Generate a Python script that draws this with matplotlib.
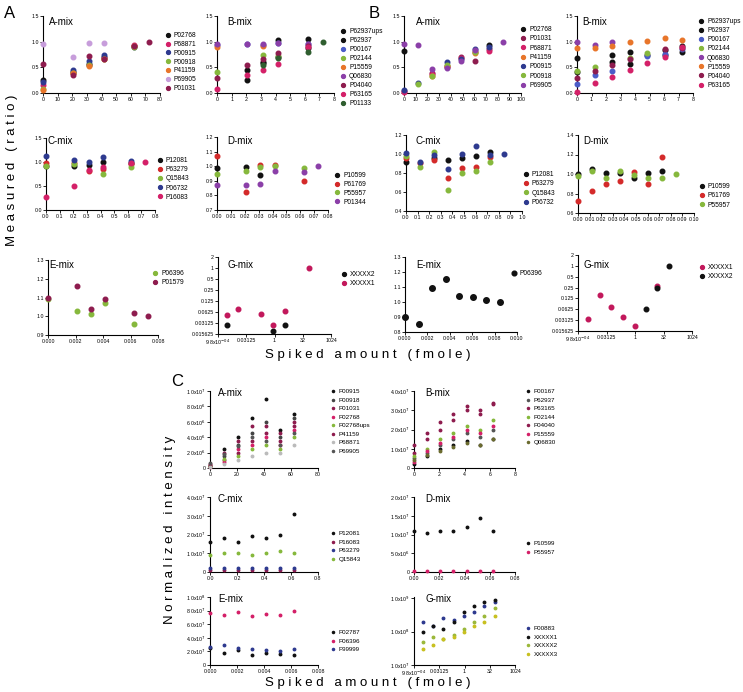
import numpy as np
import matplotlib.pyplot as plt

plt.rcParams["font.family"] = ["Liberation Sans", "DejaVu Sans"]
plt.rcParams["font.size"] = 5

W, H = 743, 692
nan = np.nan

# colours
BLACK = "#111111"
RED = "#d42a2a"
PINK = "#d42068"
MAROON = "#8e1c4e"
NAVY = "#2e3a8f"
BLUE = "#4b5cc8"
GREEN = "#86b83c"
ORANGE = "#e8752a"
LAVENDER = "#c79ddb"
PURPLE = "#8b3fa8"
DKGREEN = "#2f5e2f"
MAGENTA = "#c2185b"
GREY = "#bbbbbb"

# ---------------- panel A ----------------
a_amix_x = [0, 20.8, 31.2, 41.6, 62.4, 72.8]
a_amix_names = ["P02768", "P68871", "P00915", "P00918", "P41159", "P69905", "P01031"]
a_amix_cols = [BLACK, PINK, NAVY, GREEN, ORANGE, LAVENDER, MAROON]
a_amix_vals = [
    [0.25, 0.40, 0.57, 0.70, 0.91, nan],
    [0.15, 0.38, 0.55, 0.68, 0.93, nan],
    [0.21, 0.45, 0.62, 0.74, 0.89, nan],
    [0.08, 0.38, 0.54, 0.67, 0.90, nan],
    [0.06, 0.39, 0.53, 0.66, 0.92, nan],
    [0.95, 0.70, 0.97, 0.97, nan, nan],
    [0.57, 0.36, 0.73, 0.67, 0.92, 1.00],
]

a_bmix_x = [0, 2.08, 3.12, 4.16, 6.24, 7.28]
a_bmix_names = ["P62937ups", "P62937", "P00167", "P02144", "P15559", "Q06830",
                "P04040", "P63165", "P01133"]
a_bmix_cols = [BLACK, BLACK, BLUE, GREEN, ORANGE, PURPLE, MAROON, PINK, DKGREEN]
a_bmix_vals = [
    [nan, 0.44, 0.59, 1.03, 1.06, nan],
    [nan, 0.26, 0.60, 0.70, 0.88, nan],
    [0.93, 0.95, 0.93, 0.98, 0.95, nan],
    [0.40, nan, 0.74, 0.72, nan, nan],
    [0.90, nan, 0.92, nan, nan, nan],
    [0.95, 0.95, 0.95, 0.98, 0.96, nan],
    [0.30, 0.54, 0.67, 0.77, 0.92, nan],
    [0.08, 0.36, 0.44, 0.56, 0.89, nan],
    [nan, nan, 0.54, 0.68, 0.80, 1.00],
]

a_cmix_x = [0, 0.208, 0.312, 0.416, 0.624, 0.728]
a_cmix_names = ["P12081", "P63279", "Q15843", "P06732", "P16083"]
a_cmix_cols = [BLACK, RED, GREEN, NAVY, PINK]
a_cmix_vals = [
    [0.92, 0.91, 0.93, 0.99, 0.97, nan],
    [0.98, 0.98, 0.82, 0.86, 0.95, nan],
    [0.91, 0.95, nan, 0.74, 0.89, nan],
    [1.12, 1.05, 1.00, 1.10, 1.03, nan],
    [0.27, 0.50, 0.83, 0.89, 0.97, 1.00],
]

a_dmix_x = [0, 0.0208, 0.0312, 0.0416, 0.0624, 0.0728]
a_dmix_names = ["P10599", "P61769", "P55957", "P01344"]
a_dmix_cols = [BLACK, RED, GREEN, PURPLE]
a_dmix_vals = [
    [0.99, 0.995, 0.94, nan, nan, nan],
    [1.07, 0.82, 1.005, 1.005, 0.90, nan],
    [0.95, 0.97, 0.995, 1.00, 0.99, nan],
    [0.87, 0.87, 0.88, 0.97, 0.96, 1.00],
]

a_emix_x = [0, 0.00208, 0.00312, 0.00416, 0.00624, 0.00728]
a_emix_names = ["P06396", "P01579"]
a_emix_cols = [GREEN, MAROON]
a_emix_vals = [
    [1.09, 1.03, 1.01, 1.07, 0.96, nan],
    [1.10, 1.16, 1.04, 1.09, 1.02, 1.00],
]

a_gmix_x = [0.003, 0.0115, 0.2, 0.87, 3.65, 65]
a_gmix_names = ["XXXXX2", "XXXXX1"]
a_gmix_cols = [BLACK, MAGENTA]
a_gmix_vals = [
    [0.0276, nan, nan, 0.0192, 0.0276, nan],
    [0.053, 0.074, 0.055, 0.0276, 0.065, 1.0],
]

# ---------------- panel B ----------------
grid8 = [0, 0.121, 0.242, 0.364, 0.485, 0.606, 0.727, 0.848]

b_amix_x = [0, 12.1, 24.3, 36.4, 48.6, 60.7, 72.8, 84.9]
b_amix_names = ["P02768", "P01031", "P68871", "P41159", "P00915", "P00918", "P69905"]
b_amix_cols = [BLACK, MAROON, PINK, ORANGE, NAVY, GREEN, PURPLE]
b_amix_vals = [
    [0.82, nan, nan, nan, nan, nan, 0.94, nan],
    [0.03, nan, 0.38, 0.50, 0.70, 0.62, 0.85, nan],
    [0.02, nan, 0.37, 0.52, 0.68, 0.80, 0.82, nan],
    [nan, nan, 0.34, 0.53, nan, 0.77, nan, nan],
    [0.06, 0.19, nan, 0.60, 0.66, 0.86, 0.90, nan],
    [nan, 0.17, 0.34, 0.55, nan, 0.80, nan, nan],
    [0.96, 0.93, 0.46, 0.49, 0.63, 0.83, nan, 1.00],
]

b_bmix_x = [0, 1.21, 2.42, 3.64, 4.85, 6.06, 7.27]
b_bmix_names = ["P62937ups", "P62937", "P00167", "P02144", "Q06830", "P15559",
                "P04040", "P63165"]
b_bmix_cols = [BLACK, BLACK, BLUE, GREEN, PURPLE, ORANGE, MAROON, PINK]
b_bmix_vals = [
    [0.69, nan, 0.75, 0.80, 0.74, 0.83, 0.92],
    [0.40, nan, 0.61, 0.56, nan, 0.75, 0.80],
    [0.18, 0.35, 0.43, nan, 0.73, 0.76, 0.86],
    [0.42, 0.50, nan, 0.68, 0.78, nan, nan],
    [0.99, 0.94, 1.00, nan, nan, nan, nan],
    [0.88, 0.87, 0.91, 1.00, 1.02, 1.07, 1.04],
    [0.29, 0.42, 0.55, 0.67, nan, 0.86, 0.88],
    [0.02, 0.19, 0.32, 0.45, 0.59, 0.70, 0.90],
]

b_cmix_x = grid8
b_cmix_names = ["P12081", "P63279", "Q15843", "P06732"]
b_cmix_cols = [BLACK, RED, GREEN, NAVY]
b_cmix_vals = [
    [0.92, nan, 0.96, 0.94, 0.96, 0.98, 1.02, nan],
    [0.96, 0.90, 0.94, 0.75, 0.85, 0.86, 0.97, nan],
    [0.98, 0.86, 1.02, 0.62, 0.80, 0.82, 0.92, nan],
    [1.01, 0.92, 0.99, 0.84, 1.00, 1.08, 0.99, 1.00],
]

b_dmix_x = [v / 10 for v in grid8]
b_dmix_names = ["P10599", "P61769", "P55957"]
b_dmix_cols = [BLACK, RED, GREEN]
b_dmix_vals = [
    [1.00, 1.05, 1.01, 1.01, 0.96, 1.01, 1.03, nan],
    [0.72, 0.83, 0.90, 0.93, 1.02, 0.90, 1.17, nan],
    [0.98, 1.03, 0.96, 1.03, 0.99, 0.96, 0.96, 1.00],
]

b_emix_x = [v / 100 for v in grid8]
b_emix_names = ["P06396"]
b_emix_cols = [BLACK]
b_emix_vals = [[0.90, 0.85, 1.09, 1.15, 1.04, 1.035, 1.015, 1.00]]

b_gmix_x = [0.0033, 0.0136, 0.056, 0.233, 0.96, 3.66, 14.5, 62]
b_gmix_names = ["XXXXX1", "XXXXX2"]
b_gmix_cols = [MAGENTA, BLACK]
b_gmix_vals = [
    [0.034, 0.154, 0.072, 0.037, 0.0213, nan, 0.283, nan],
    [nan, nan, nan, nan, nan, 0.064, 0.24, 1.0],
]

# ---------------- panel C (normalized intensity) ----------------
c_amix_x = [0, 10.4, 20.8, 31.2, 41.6, 52, 62.4]
c_amix_names = ["P00915", "P00918", "P01031", "P02768", "P02768ups", "P41159",
                "P68871", "P69905"]
c_amix_cols = [BLACK, "#444444", MAROON, PINK, GREEN, MAROON, GREY, "#555555"]
c_amix_vals = [
    [0.3e6, 2.5e6, 4.0e6, 6.5e6, 9.0e6, 5.0e6, 7.0e6],
    [0.2e6, 1.5e6, 3.0e6, 4.5e6, 6.0e6, 4.0e6, 6.5e6],
    [0.5e6, 1.0e6, 2.0e6, 3.5e6, 4.5e6, 3.5e6, 5.5e6],
    [0.1e6, 0.8e6, 2.5e6, 3.0e6, 4.0e6, 3.0e6, 5.0e6],
    [0.2e6, 1.2e6, 1.5e6, 2.5e6, 3.0e6, 2.5e6, 4.0e6],
    [0.4e6, 2.0e6, 3.5e6, 5.5e6, 5.5e6, 4.5e6, 6.0e6],
    [0.1e6, 0.5e6, 1.0e6, 1.5e6, 2.0e6, 2.0e6, 3.0e6],
    [0.6e6, 1.8e6, 2.8e6, 4.0e6, 3.5e6, 3.0e6, 4.5e6],
]

c_bmix_x = [0, 1.04, 2.08, 3.12, 4.16, 5.2, 6.24]
c_bmix_names = ["P00167", "P62937", "P63165", "P02144", "P04040", "P15559", "Q06830"]
c_bmix_cols = [BLACK, "#555555", MAROON, GREEN, MAROON, PINK, "#6b6b2f"]
c_bmix_vals = [
    [0.2e7, 0.6e7, 1.0e7, 1.2e7, 1.4e7, 1.2e7, 1.5e7],
    [0.5e7, 0.8e7, 1.2e7, 1.5e7, 1.8e7, 1.6e7, 2.0e7],
    [0.8e7, 1.5e7, 2.0e7, 2.5e7, 3.0e7, 2.8e7, 3.3e7],
    [0.6e7, 1.0e7, 1.5e7, 1.8e7, 2.2e7, 2.0e7, 2.5e7],
    [1.2e7, 1.8e7, 2.4e7, 2.8e7, 3.2e7, 3.0e7, 3.4e7],
    [0.3e7, 0.9e7, 1.3e7, 1.6e7, 2.0e7, 1.8e7, 2.2e7],
    [0.4e7, 0.7e7, 0.9e7, 1.1e7, 1.3e7, 1.2e7, 1.5e7],
]

c_cmix_x = [0, 0.104, 0.208, 0.312, 0.416, 0.52, 0.624]
c_cmix_names = ["P12081", "P16083", "P63279", "Q15843"]
c_cmix_cols = [BLACK, MAROON, NAVY, GREEN]
c_cmix_vals = [
    [1.6e7, 1.8e7, 1.6e7, 1.9e7, 1.8e7, 2.0e7, 3.1e7],
    [0.1e7, 0.1e7, 0.1e7, 0.1e7, 0.1e7, 0.1e7, 0.1e7],
    [0.2e7, 0.2e7, 0.2e7, 0.2e7, 0.2e7, 0.2e7, 0.2e7],
    [0.9e7, 1.0e7, 1.0e7, 0.9e7, 1.0e7, 1.1e7, 1.0e7],
]

c_dmix_x = [0, 0.0104, 0.0208, 0.0312, 0.0416, 0.052, 0.0624]
c_dmix_names = ["P10599", "P55957"]
c_dmix_cols = [BLACK, PINK]
c_dmix_vals = [
    [1.1e7, 1.05e7, 1.1e7, 1.1e7, 1.2e7, 1.45e7, 1.1e7],
    [0.03e7, 0.03e7, 0.03e7, 0.03e7, 0.03e7, 0.03e7, 0.03e7],
]

c_emix_x = [0, 0.00104, 0.00208, 0.00312, 0.00416, 0.0052, 0.00624]
c_emix_names = ["P02787", "P06396", "P99999"]
c_emix_cols = [BLACK, PINK, NAVY]
c_emix_vals = [
    [2.5e7, 1.8e7, 2.2e7, 1.5e7, 1.8e7, 1.6e7, 1.5e7],
    [7.6e7, 7.4e7, 7.8e7, 7.2e7, 7.5e7, 7.3e7, 8.0e7],
    [2.6e7, 3.0e7, 2.5e7, 2.4e7, 2.2e7, 2.0e7, 2.4e7],
]

c_gmix_x = [0.0033, 0.0136, 0.056, 0.233, 0.96, 3.66, 14.5, 62]
c_gmix_names = ["P00883", "XXXXX1", "XXXXX2", "XXXXX3"]
c_gmix_cols = [NAVY, BLACK, "#9bb83a", "#c8c020"]
c_gmix_vals = [
    [2e8, 1.5e8, 2.5e8, 2.2e8, 3e8, 4e8, 6e8, 8e8],
    [1e8, 1.5e8, 1.2e8, 2e8, 4e8, 6e8, 8e8, 9e8],
    [5e7, 7e7, 6e7, 8e7, 1.2e8, 2e8, 3e8, 5e8],
    [3e7, 4e7, 6e7, 7e7, 1e8, 1.5e8, 2e8, 3e8],
]

fig = plt.figure(figsize=(W / 100, H / 100), dpi=100)


def px_axes(l, t, r, b):
    return fig.add_axes([l / W, 1 - b / H, (r - l) / W, (b - t) / H])


def panel(rect, title, tpos, x, vals, names, cols, leg, xlim, xticks, xlabels,
          ylim, yticks, ylabels, log=False, ms=3.3, fs=4.8, lsp=0.28):
    ax = px_axes(*rect)
    handles = []
    for v, c in zip(vals, cols):
        (h,) = ax.plot(x, v, "o", color=c, ms=ms, mec=c, clip_on=False, zorder=3)
        handles.append(h)
    if log:
        ax.set_xscale("log", base=2)
        ax.set_yscale("log", base=2)
    ax.set_xlim(*xlim)
    ax.set_ylim(*ylim)
    ax.set_xticks(xticks)
    ax.set_xticklabels(xlabels)
    ax.set_yticks(yticks)
    ax.set_yticklabels(ylabels)
    ax.minorticks_off()
    for s in ["top", "right"]:
        ax.spines[s].set_visible(False)
    for s in ["left", "bottom"]:
        ax.spines[s].set_linewidth(0.8)
    ax.tick_params(length=2, width=0.6, labelsize=3.8, pad=1)
    ax.patch.set_alpha(0)
    fig.text(tpos[0] / W, 1 - tpos[1] / H, title, fontsize=7, va="center", ha="left")
    ax.legend(handles, names, loc="upper left",
              bbox_to_anchor=((leg[0] - 2) / W, 1 - (leg[1] - 4) / H),
              bbox_transform=fig.transFigure, frameon=False, fontsize=fs,
              borderpad=0, borderaxespad=0, handlelength=0.6, handletextpad=0.6,
              labelspacing=lsp, markerscale=0.85)
    return ax


def labs(vals, fmt):
    return [fmt.format(v) for v in vals]


def sci(v):
    if v == 0:
        return "0"
    e = int(np.floor(np.log10(v)))
    return r"%.1fx10$^{%d}$" % (v / 10 ** e, e)


r01 = [0, 0.5, 1.0, 1.5]
log_x = [2.0 ** -10, 2.0 ** -5, 1, 32, 1024]
log_xl = [r"9.8x10$^{-04}$", "0.03125", "1", "32", "1024"]
log_y = [2.0 ** k for k in range(-6, 2)]
log_yl = ["0.015625", "0.03125", "0.0625", "0.125", "0.25", "0.5", "1", "2"]

# ---- panel A
panel((43, 16, 160, 93), "A-mix", (49, 22), a_amix_x, a_amix_vals, a_amix_names,
      a_amix_cols, (168, 36), (0, 80), range(0, 81, 10), labs(range(0, 81, 10), "{}"),
      (0, 1.5), r01, labs(r01, "{:.1f}"))
panel((217, 16, 334, 93), "B-mix", (227, 22), a_bmix_x, a_bmix_vals, a_bmix_names,
      a_bmix_cols, (343, 32), (0, 8), range(9), labs(range(9), "{}"),
      (0, 1.5), r01, labs(r01, "{:.1f}"), lsp=0.3)
cx = np.arange(0, 0.81, 0.1)
panel((46, 138, 155, 210), "C-mix", (48, 141), a_cmix_x, a_cmix_vals, a_cmix_names,
      a_cmix_cols, (160, 161), (0, 0.8), cx, labs(cx, "{:.1f}"),
      (0, 1.5), r01, labs(r01, "{:.1f}"), lsp=0.33)
dx = np.arange(0, 0.081, 0.01)
dy = np.arange(0.7, 1.21, 0.1)
panel((217, 137, 328, 210), "D-mix", (227, 141), a_dmix_x, a_dmix_vals, a_dmix_names,
      a_dmix_cols, (337, 176), (0, 0.08), dx, labs(dx, "{:.2f}"),
      (0.7, 1.2), dy, labs(dy, "{:.1f}"))
ex = np.arange(0, 0.0081, 0.002)
ey = np.arange(0.9, 1.31, 0.1)
panel((48, 260, 158, 335), "E-mix", (49, 265), a_emix_x, a_emix_vals, a_emix_names,
      a_emix_cols, (155, 274), (0, 0.008), ex, labs(ex, "{:.3f}"),
      (0.9, 1.3), ey, labs(ey, "{:.1f}"))
panel((218, 257, 331, 334), "G-mix", (227, 265), a_gmix_x, a_gmix_vals, a_gmix_names,
      a_gmix_cols, (344, 275), (2.0 ** -10, 1024), log_x, log_xl,
      (2.0 ** -6, 2), log_y, log_yl, log=True)

# ---- panel B
panel((404, 16, 521, 93), "A-mix", (416, 22), b_amix_x, b_amix_vals, b_amix_names,
      b_amix_cols, (523, 30), (0, 100), range(0, 101, 10), labs(range(0, 101, 10), "{}"),
      (0, 1.5), r01, labs(r01, "{:.1f}"), lsp=0.35)
panel((577, 16, 693, 93), "B-mix", (582, 22), b_bmix_x, b_bmix_vals, b_bmix_names,
      b_bmix_cols, (701, 22), (0, 8), range(9), labs(range(9), "{}"),
      (0, 1.5), r01, labs(r01, "{:.1f}"), lsp=0.32)
bcx = np.arange(0, 1.01, 0.1)
bcy = np.arange(0.4, 1.21, 0.2)
panel((406, 135, 522, 211), "C-mix", (416, 141), b_cmix_x, b_cmix_vals, b_cmix_names,
      b_cmix_cols, (526, 175), (0, 1.0), bcx, labs(bcx, "{:.1f}"),
      (0.4, 1.2), bcy, labs(bcy, "{:.1f}"), lsp=0.35)
bdx = np.arange(0, 0.101, 0.01)
bdy = np.arange(0.6, 1.41, 0.2)
panel((578, 135, 694, 213), "D-mix", (583, 141), b_dmix_x, b_dmix_vals, b_dmix_names,
      b_dmix_cols, (702, 187), (0, 0.10), bdx, labs(bdx, "{:.2f}"),
      (0.6, 1.4), bdy, labs(bdy, "{:.1f}"), lsp=0.35)
bex = np.arange(0, 0.0101, 0.002)
bey = np.arange(0.8, 1.31, 0.1)
panel((405, 257, 517, 332), "E-mix", (416, 265), b_emix_x, b_emix_vals, b_emix_names,
      b_emix_cols, (514, 274), (0, 0.010), bex, labs(bex, "{:.3f}"),
      (0.8, 1.3), bey, labs(bey, "{:.1f}"), ms=4)
panel((578, 255, 692, 331), "G-mix", (583, 265), b_gmix_x, b_gmix_vals, b_gmix_names,
      b_gmix_cols, (702, 268), (2.0 ** -10, 1024), log_x, log_xl,
      (2.0 ** -6, 2), log_y, log_yl, log=True)

# ---- panel C
csty = dict(ms=1.8, fs=4.5, lsp=0.5)
camy = np.arange(0, 1.01e7, 2e6)
panel((210, 391, 318, 468), "A-mix", (218, 393), c_amix_x, c_amix_vals, c_amix_names,
      c_amix_cols, (333, 393), (0, 80), range(0, 81, 20), labs(range(0, 81, 20), "{}"),
      (0, 1e7), camy, [sci(v) for v in camy], **csty)
cby = np.arange(0, 4.01e7, 1e7)
panel((414, 391, 515, 468), "B-mix", (425, 393), c_bmix_x, c_bmix_vals, c_bmix_names,
      c_bmix_cols, (528, 393), (0, 8), range(0, 9, 2), labs(range(0, 9, 2), "{}"),
      (0, 4e7), cby, [sci(v) for v in cby], **csty)
ccx = np.arange(0, 0.81, 0.2)
panel((210, 497, 318, 572), "C-mix", (218, 499), c_cmix_x, c_cmix_vals, c_cmix_names,
      c_cmix_cols, (333, 535), (0, 0.8), ccx, labs(ccx, "{:.1f}"),
      (0, 4e7), cby, [sci(v) for v in cby], **csty)
cdx = np.arange(0, 0.081, 0.02)
cdy = np.arange(0, 2.01e7, 5e6)
panel((414, 497, 515, 572), "D-mix", (425, 499), c_dmix_x, c_dmix_vals, c_dmix_names,
      c_dmix_cols, (528, 545), (0, 0.08), cdx, labs(cdx, "{:.2f}"),
      (0, 2e7), cdy, [sci(v) for v in cdy], **csty)
cex = np.arange(0, 0.0081, 0.002)
cey = np.arange(0, 1.01e8, 2e7)
panel((210, 597, 318, 665), "E-mix", (218, 599), c_emix_x, c_emix_vals, c_emix_names,
      c_emix_cols, (333, 634), (0, 0.008), cex, labs(cex, "{:.3f}"),
      (0, 1e8), cey, [sci(v) for v in cey], **csty)
cgy = [1e7, 1e8, 1e9]
panel((414, 597, 515, 665), "G-mix", (425, 599), c_gmix_x, c_gmix_vals, c_gmix_names,
      c_gmix_cols, (528, 630), (2.0 ** -10, 1024), log_x, log_xl,
      (1e7, 1.1e9), cgy, [sci(v) for v in cgy], log=True, **csty)

# axis titles and panel letters
fig.text(12 / W, 1 - 170 / H, "M e a s u r e d   ( r a t i o )", rotation=90,
         fontsize=9.5, ha="center", va="center")
fig.text(368 / W, 1 - 355 / H, "S p i k e d   a m o u n t   ( f m o l e )",
         fontsize=9.5, ha="center", va="center")
fig.text(170 / W, 1 - 530 / H, "N o r m a l i z e d   i n t e n s i t y", rotation=90,
         fontsize=9.5, ha="center", va="center")
fig.text(368 / W, 1 - 683 / H, "S p i k e d   a m o u n t   ( f m o l e )",
         fontsize=9.5, ha="center", va="center")
for letter, (lx, ly) in {"A": (10, 13), "B": (374, 13), "C": (177, 381)}.items():
    fig.text(lx / W, 1 - ly / H, letter, fontsize=12, ha="center", va="center")

fig.savefig("out.png", dpi=100)
